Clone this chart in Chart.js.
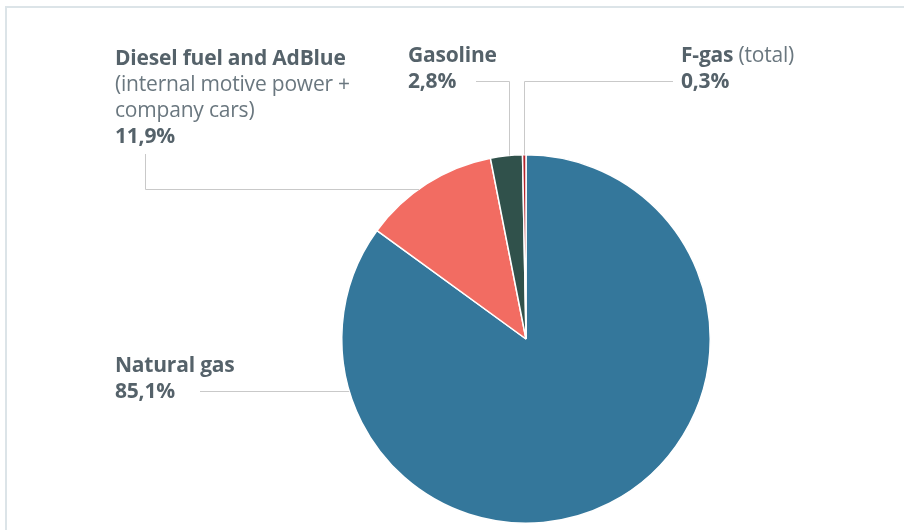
<!DOCTYPE html>
<html>
<head>
<meta charset="utf-8">
<script src="https://cdn.jsdelivr.net/npm/chart.js@4"></script>
<style>
	body { margin: 0; background: #fff; }
	#wrap { position: relative; width: 904px; height: 530px; overflow: hidden; }
	#frame { position: absolute; left: 5px; top: 6px; width: 1000px; height: 600px;
		border-top: 2px solid #dce4e8; border-left: 2px solid #dce4e8; }
	.label { position: absolute; font-family: "Open Sans", Lato, sans-serif; font-size: 21px;
		line-height: 26px; color: #6a777f; white-space: nowrap; letter-spacing: -0.2px; }
	.label b { color: #55626a; font-weight: 700; }
</style>
</head>
<body>
<div id="wrap">
	<div id="frame"></div>
	<canvas id="chart"></canvas>
</div>
<script>
const CATEGORIES = ["Natural gas", "Diesel fuel and AdBlue", "Gasoline", "F-gas"];
const NOTES = ["", "(internal motive power +\ncompany cars)", "", "(total)"];
const SHARES = [85.1, 11.9, 2.8, 0.3];
const COLORS = ["#34779b", "#f26c62", "#30514b", "#b3232c"];

// where each label block sits, and how its leader line runs to the pie
const LABEL_POS = [
	{ left: 115, top: 351 },
	{ left: 115, top: 43.5 },
	{ left: 408, top: 40.5 },
	{ left: 681, top: 40.5 },
];
const LEADERS = [
	{ kind: "h", x: 200, y: 391 },
	{ kind: "vh", x: 145, y: 154, turn: 189 },
	{ kind: "hv", x: 476, y: 81, turn: 509 },
	{ kind: "hv", x: 673, y: 81, turn: 524 },
];

const fmt = (v) => v.toFixed(1).replace(".", ",") + "%";

const wrap = document.getElementById("wrap");
CATEGORIES.forEach((name, i) => {
	const div = document.createElement("div");
	div.className = "label";
	div.style.left = LABEL_POS[i].left + "px";
	div.style.top = LABEL_POS[i].top + "px";
	let html = "<b>" + name + "</b>";
	const note = NOTES[i];
	if (note) {
		html += note.includes("\n") ? "<br>" + note.replace("\n", "<br>") : " " + note;
	}
	html += "<br><b>" + fmt(SHARES[i]) + "</b>";
	div.innerHTML = html;
	wrap.appendChild(div);
});

const leaderLines = {
	id: "leaderLines",
	afterDraw(chart) {
		const arc = chart.getDatasetMeta(0).data[0];
		const cx = arc.x, cy = arc.y, r = arc.outerRadius;
		const ctx = chart.ctx;
		ctx.save();
		ctx.strokeStyle = "#c9c9c9";
		ctx.lineWidth = 1;
		ctx.beginPath();
		LEADERS.forEach((l) => {
			if (l.kind === "h") {
				const ex = cx - Math.sqrt(r * r - (l.y - cy) ** 2);
				ctx.moveTo(l.x, l.y + 0.5);
				ctx.lineTo(ex, l.y + 0.5);
			} else if (l.kind === "vh") {
				const ex = cx - Math.sqrt(r * r - (l.turn - cy) ** 2);
				ctx.moveTo(l.x + 0.5, l.y);
				ctx.lineTo(l.x + 0.5, l.turn + 0.5);
				ctx.lineTo(ex, l.turn + 0.5);
			} else {
				const ey = cy - Math.sqrt(r * r - (l.turn - cx) ** 2);
				ctx.moveTo(l.x, l.y + 0.5);
				ctx.lineTo(l.turn + 0.5, l.y + 0.5);
				ctx.lineTo(l.turn + 0.5, ey);
			}
		});
		ctx.stroke();
		ctx.restore();
	},
};

new Chart(document.getElementById("chart"), {
	type: "pie",
	data: {
		labels: CATEGORIES,
		datasets: [
			{
				data: SHARES,
				backgroundColor: COLORS,
				borderColor: "#ffffff",
				borderWidth: 1.5,
			},
		],
	},
	options: {
		responsive: true,
		maintainAspectRatio: false,
		animation: false,
		layout: { padding: { left: 341, right: 193, top: 154, bottom: 6 } },
		plugins: { legend: { display: false }, tooltip: { enabled: false } },
	},
	plugins: [leaderLines],
});
</script>
</body>
</html>
